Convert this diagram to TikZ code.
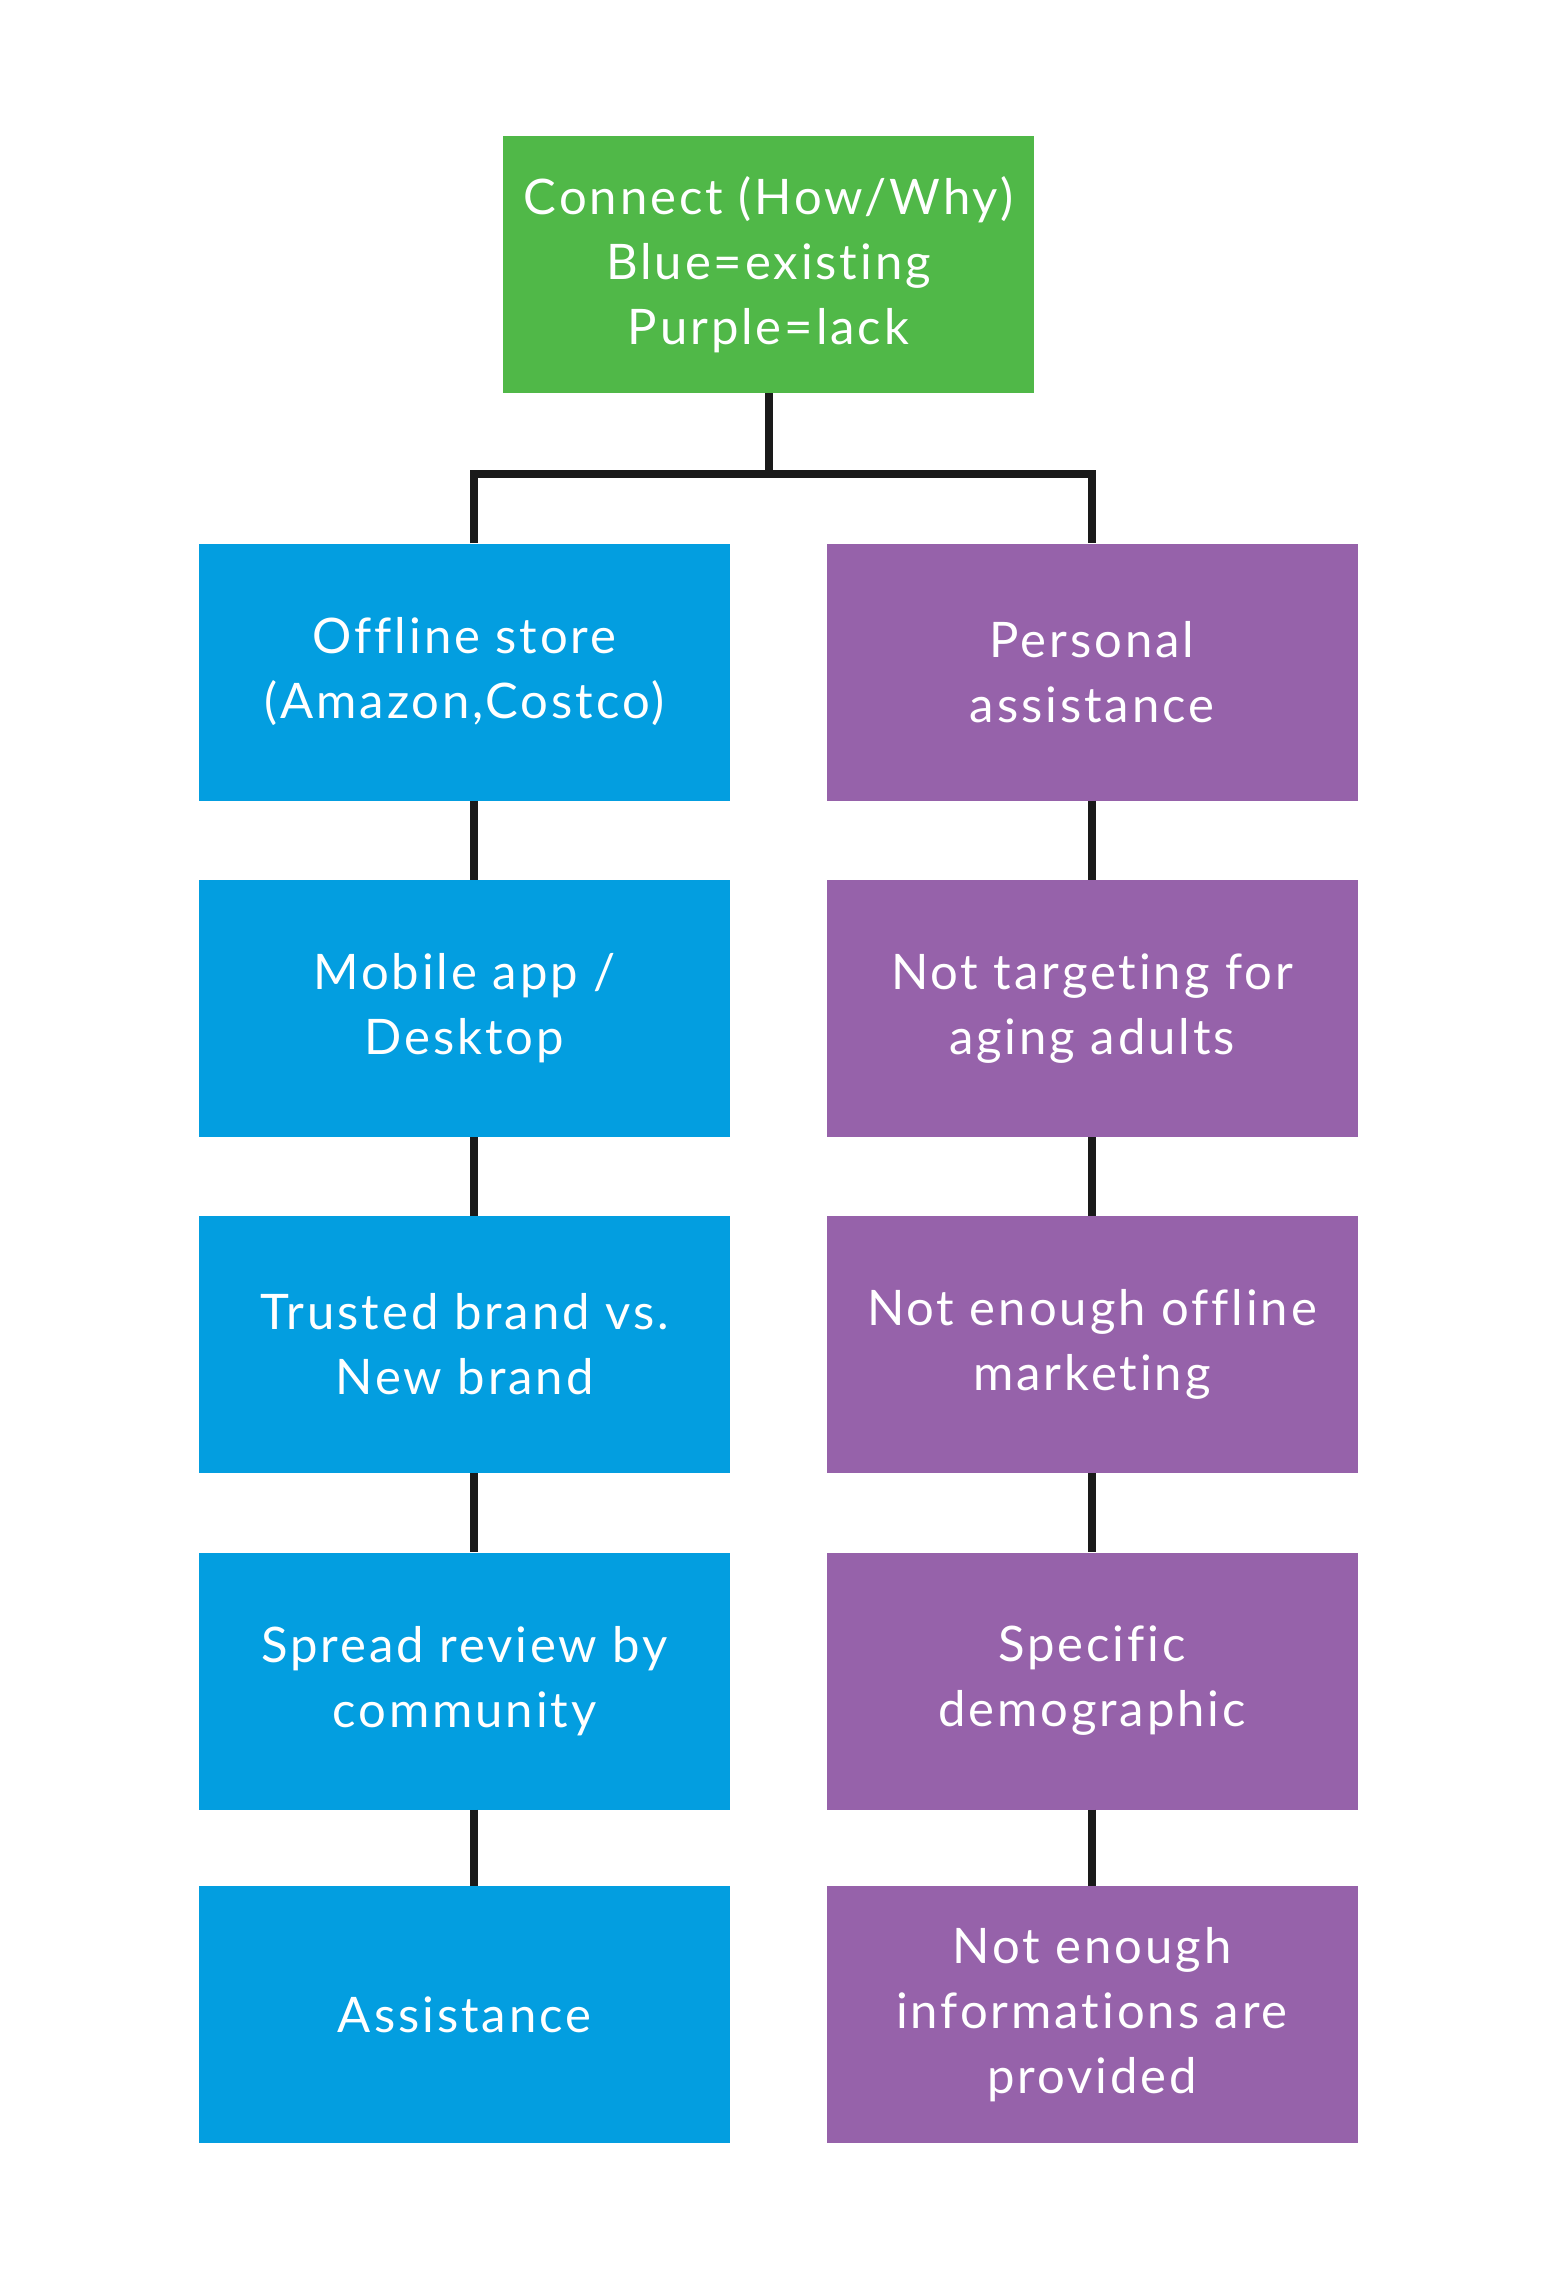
\documentclass[tikz,border=0pt]{standalone}
\usepackage{fontspec}
\setmainfont[LetterSpace=6,Ligatures={NoCommon,NoRare,NoContextual}]{Lato}
\definecolor{cgreen}{RGB}{80,184,72}
\definecolor{cblue}{RGB}{3,158,224}
\definecolor{cpurple}{RGB}{150,98,170}
\definecolor{cline}{RGB}{26,26,26}
\begin{document}
\begin{tikzpicture}[x=1pt,y=-1pt,
  box/.style={minimum width=531pt,minimum height=257pt,inner sep=0pt,
    text=white,align=center,font=\fontsize{49}{65}\selectfont},
  bluebox/.style={box,fill=cblue},
  purplebox/.style={box,fill=cpurple},
  greenbox/.style={box,fill=cgreen},
  conn/.style={draw=cline,line width=8pt}]
\useasboundingbox (0,0) rectangle (1557,2273);
\node[greenbox] (top) at (768.5,264.5) {Connect (How/Why)\\Blue=existing\\Purple=lack};
\node[bluebox] (b1) at (464.5,672) {Offline store\\(Amazon,Costco)};
\node[bluebox] (b2) at (464.5,1008.5) {Mobile app /\\Desktop};
\node[bluebox] (b3) at (464.5,1344.5) {Trusted brand vs.\\New brand};
\node[bluebox] (b4) at (464.5,1681) {Spread review by\\community};
\node[bluebox] (b5) at (464.5,2014.5) {Assistance};
\node[purplebox] (p1) at (1092,672) {Personal\\assistance};
\node[purplebox] (p2) at (1092,1008.5) {Not targeting for\\aging adults};
\node[purplebox] (p3) at (1092,1344.5) {Not enough offline\\marketing};
\node[purplebox] (p4) at (1092,1681) {Specific\\demographic};
\node[purplebox] (p5) at (1092,2014.5) {Not enough\\informations are\\provided};
\coordinate (lx) at (474,0);
\coordinate (j) at (768.5,474);
\draw[conn] (top.south) -- (j);
\draw[conn] (b1.north -| lx) |- (j) -| (p1.north);
\draw[conn] (b1.south -| lx) -- (b2.north -| lx);
\draw[conn] (b2.south -| lx) -- (b3.north -| lx);
\draw[conn] (b3.south -| lx) -- (b4.north -| lx);
\draw[conn] (b4.south -| lx) -- (b5.north -| lx);
\draw[conn] (p1.south) -- (p2.north);
\draw[conn] (p2.south) -- (p3.north);
\draw[conn] (p3.south) -- (p4.north);
\draw[conn] (p4.south) -- (p5.north);
\end{tikzpicture}
\end{document}
